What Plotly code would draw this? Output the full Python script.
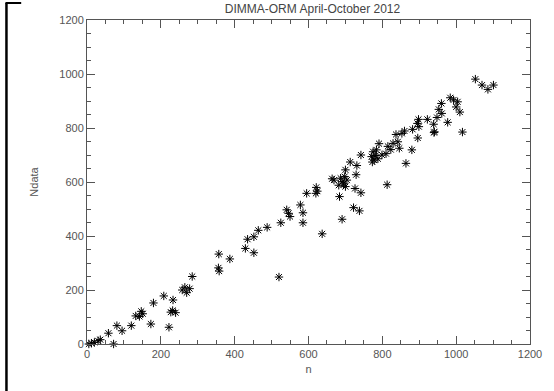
import plotly.graph_objects as go

# Data
n_low = [5, 12, 20, 30, 36, 58, 72, 81, 95, 120, 132, 142, 147, 151, 173, 180, 208, 222,
         227, 232, 233, 240, 258, 265, 270, 278, 285, 356, 357, 358, 387]
nd_low = [0, 3, 6, 12, 16, 40, 0, 68, 49, 68, 104, 102, 121, 112, 74, 152, 178, 62,
          118, 124, 163, 116, 200, 210, 190, 205, 250, 282, 333, 270, 315]

n_mid = [429, 435, 452, 452, 464, 488, 520, 525, 541, 546, 550, 578, 585, 585, 595, 620,
         621, 624, 637]
nd_mid = [354, 388, 338, 397, 421, 432, 248, 449, 497, 484, 472, 515, 486, 449, 558, 558,
          580, 566, 408]

n_high = [664, 669, 682, 687, 691, 695, 698, 700, 700, 704, 684, 691, 713, 731, 729, 726,
          742, 722, 738, 742, 775, 773, 782, 788, 791, 810, 815, 823, 829, 837, 846, 853,
          813, 864, 880, 896, 940, 1017, 784, 771, 778, 799, 842, 860, 882, 898, 895, 899,
          922, 939, 941, 948, 960, 953, 961, 977, 984, 993, 1004, 1000, 1010, 1052, 1070,
          1086, 1101]
nd_high = [612, 607, 588, 614, 601, 593, 620, 645, 583, 607, 546, 462, 674, 661, 627, 576,
           560, 505, 493, 700, 712, 674, 698, 686, 742, 705, 732, 720, 743, 776, 725, 780,
           590, 669, 719, 763, 783, 785, 719, 694, 681, 700, 749, 789, 795, 832, 817, 805,
           832, 814, 786, 839, 891, 869, 854, 821, 912, 904, 897, 878, 859, 981, 959,
           943, 959]

n_vals = n_low + n_mid + n_high
ndata_vals = nd_low + nd_mid + nd_high

title_text = "DIMMA-ORM April-October 2012"
x_title = "n"
y_title = "Ndata"
tick_vals = [0, 200, 400, 600, 800, 1000, 1200]

W, H = 554, 391
L, R, T, B = 87, 16, 20, 47
pw, ph = W - L - R, H - T - B
FONT = "Liberation Sans, Arial"
GREY = "#555555"

def px2x(px):
    return (px - L) / pw

def py2y(py):
    return (H - B - py) / ph

fig = go.Figure()
fig.add_trace(go.Scatter(
    x=n_vals, y=ndata_vals, mode="markers",
    marker=dict(symbol="asterisk-open", size=7, color="black",
                line=dict(color="#111111", width=1)),
    cliponaxis=False, showlegend=False,
))

axis_common = dict(
    range=[0, 1200], tickvals=tick_vals, ticks="inside", ticklen=8, tickwidth=1,
    tickcolor=GREY, showline=True, linecolor=GREY, linewidth=1, mirror="allticks",
    showgrid=False, zeroline=False,
    minor=dict(dtick=50, tick0=0, ticks="inside", ticklen=4, tickwidth=1,
               tickcolor=GREY, showgrid=False),
    tickfont=dict(family=FONT, size=11, color=GREY),
)

fig.update_xaxes(**axis_common)
fig.update_yaxes(**axis_common)
fig.update_xaxes(title_text=x_title, title_standoff=6,
                 title_font=dict(family=FONT, size=11, color=GREY))
fig.update_yaxes(title_text=y_title, title_standoff=18,
                 title_font=dict(family=FONT, size=11, color=GREY))

fig.update_layout(
    width=W, height=H,
    margin=dict(l=L, r=R, t=T, b=B, pad=0),
    paper_bgcolor="white", plot_bgcolor="white",
    title=dict(text=title_text, x=(L + pw / 2) / W, xanchor="center",
               y=1 - 9 / H, yanchor="middle",
               font=dict(family=FONT, size=12, color="#444444")),
    shapes=[
        dict(type="line", xref="paper", yref="paper",
             x0=px2x(5), x1=px2x(5), y0=py2y(391), y1=py2y(3),
             line=dict(color="black", width=2.5)),
        dict(type="line", xref="paper", yref="paper",
             x0=px2x(4), x1=px2x(20), y0=py2y(3), y1=py2y(3),
             line=dict(color="black", width=2)),
    ],
)

fig.write_html("out.html")
